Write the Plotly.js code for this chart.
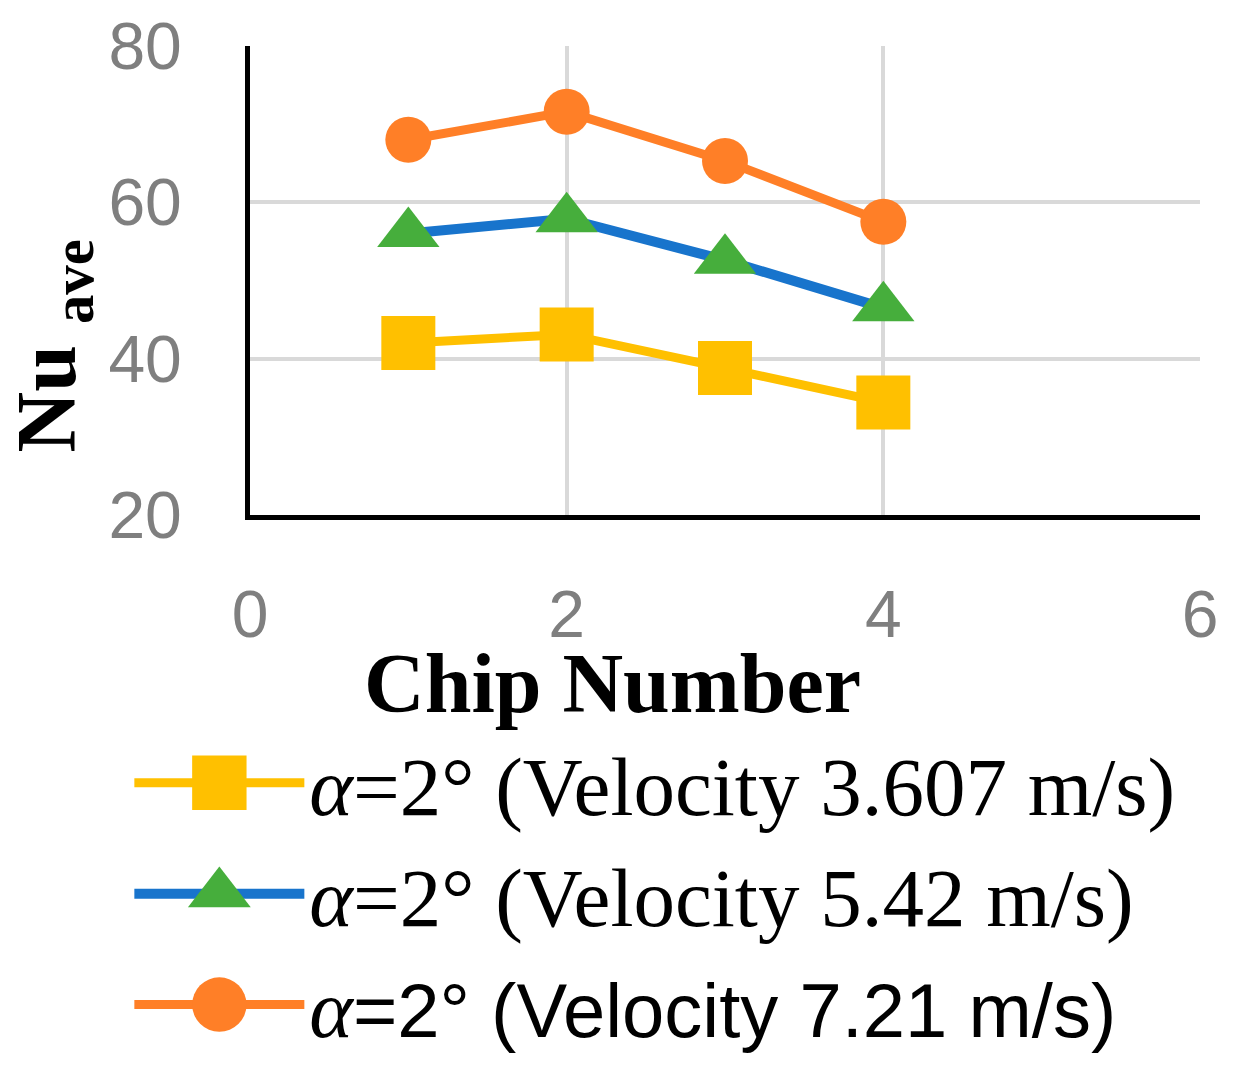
<!DOCTYPE html>
<html>
<head>
<meta charset="utf-8">
<script src="https://cdn.plot.ly/plotly-3.0.1.min.js"></script>
<style>
  body { margin: 0; background: #fff; }
  #nuPlot { width: 1253px; height: 1078px; }
</style>
</head>
<body>
<div id="nuPlot"></div>
<script>
// chip positions
var chips = [1, 2, 3, 4];

// Nu ave values
var nu_v3607 = [42.0, 43.1, 38.8, 34.4];
var nu_v542 = [56.0, 57.9, 52.6, 46.5];
var nu_v721 = [68.0, 71.6, 65.3, 57.5];

var xTicks = [0, 2, 4, 6];
var yTicks = [20, 40, 60, 80];

var cb_nuPlot = function () {
  let trace1 = {
    x: chips,
    y: nu_v3607,
    name: "<i>α</i>=2° (Velocity 3.607 m/s)",
    mode: "lines+markers",
    line: { color: "#FFC000", width: 9 },
    marker: { symbol: "square", size: 54, color: "#FFC000" },
    type: "scatter",
  };

  let trace2 = {
    x: chips,
    y: nu_v542,
    name: "<i>α</i>=2° (Velocity 5.42 m/s)",
    mode: "lines+markers",
    line: { color: "#1874CC", width: 10 },
    marker: { symbol: "triangle-up", size: 54, color: "#46AE3C" },
    type: "scatter",
  };

  let trace3 = {
    x: chips,
    y: nu_v721,
    name:
      "<i>α</i><span style='font-family:Liberation Sans, Arial, sans-serif;font-size:76px'>=2° (Velocity 7.21 m/s)</span>",
    mode: "lines+markers",
    line: { color: "#FF7F27", width: 9 },
    marker: { symbol: "circle", size: 46, color: "#FF7F27" },
    type: "scatter",
  };

  let data = [trace1, trace2, trace3];

  let layout = {
    width: 1253,
    height: 1078,
    margin: { l: 250, r: 53, t: 46, b: 561, pad: 0 },
    paper_bgcolor: "#fff",
    plot_bgcolor: "#fff",
    font: { family: "Liberation Serif, Times New Roman, serif", color: "#000" },
    showlegend: true,
    legend: {
      orientation: "v",
      x: -0.127,
      xanchor: "left",
      y: -0.442,
      yanchor: "top",
      itemwidth: 170,
      tracegroupgap: 0,
      font: { family: "Liberation Serif, Times New Roman, serif", size: 83, color: "#000" },
    },
    xaxis: {
      range: [0, 6],
      tickvals: xTicks,
      showline: true,
      linecolor: "#000",
      linewidth: 5,
      showgrid: true,
      gridcolor: "#d9d9d9",
      gridwidth: 4,
      zeroline: false,
      ticks: "",
      ticklabelstandoff: 38,
      tickfont: { family: "Liberation Sans, Arial, sans-serif", size: 66, color: "#7f7f7f" },
    },
    yaxis: {
      range: [20, 80],
      tickvals: yTicks,
      showline: true,
      linecolor: "#000",
      linewidth: 5,
      showgrid: true,
      gridcolor: "#d9d9d9",
      gridwidth: 4,
      zeroline: false,
      ticks: "",
      ticklabelstandoff: 50,
      tickfont: { family: "Liberation Sans, Arial, sans-serif", size: 66, color: "#7f7f7f" },
    },
    annotations: [
      {
        text: "<b>Nu <sub>ave</sub></b>",
        xref: "paper",
        yref: "paper",
        x: -0.207,
        y: 0.36,
        xanchor: "center",
        yanchor: "middle",
        textangle: -90,
        showarrow: false,
        font: { family: "Liberation Serif, Times New Roman, serif", size: 84, color: "#000" },
      },
      {
        text: "<b>Chip Number</b>",
        xref: "paper",
        yref: "paper",
        x: 0.382,
        y: -0.255,
        xanchor: "center",
        yanchor: "top",
        showarrow: false,
        font: { family: "Liberation Serif, Times New Roman, serif", size: 84, color: "#000" },
      },
    ],
  };

  let config = { staticPlot: true, displaylogo: false };

  Plotly.newPlot("nuPlot", data, layout, config).then(function (gd) {
    // legend symbols are capped in size by plotly, enlarge them like the original
    let pts = gd.querySelectorAll(".legend .legendpoints path.scatterpts");
    pts.forEach(function (p) {
      let t = p.getAttribute("transform") || "";
      p.setAttribute("transform", t + " scale(3.4)");
    });
  });
};

cb_nuPlot();
</script>
</body>
</html>
